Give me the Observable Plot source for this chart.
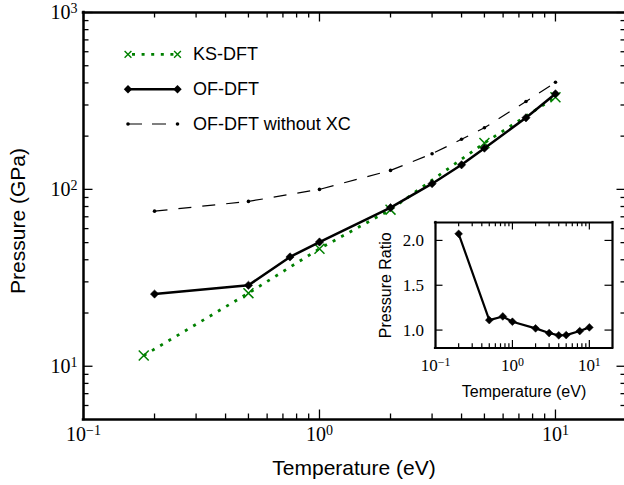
<!DOCTYPE html>
<html><head><meta charset="utf-8">
<script src="https://cdn.jsdelivr.net/npm/d3@7"></script>
<script src="https://cdn.jsdelivr.net/npm/@observablehq/plot@0.6"></script>
<style>
html,body{margin:0;padding:0;background:#fff;overflow:hidden}
#wrap{position:relative;width:624px;height:485px;overflow:hidden;background:#fff}
#wrap svg{position:absolute;overflow:visible}
</style></head><body><div id="wrap"></div>
<script>
// ---- data ----
const ksT = [0.18, 0.5, 1, 2, 5, 10];
const ksP = [11.5, 25.9, 46.2, 76.8, 183, 332];
const ofT = [0.2, 0.5, 0.75, 1, 2, 3, 4, 5, 7.5, 10];
const ofP = [25.6, 28.7, 41.5, 50.4, 78.8, 107.7, 137.7, 171, 254, 347];
const noxcT = [0.2, 0.5, 1, 2, 3, 4, 5, 7.5, 10];
const noxcP = [75.3, 85.5, 100, 128, 159, 192, 223, 314, 403];
const ratioT = [0.2, 0.5, 0.75, 1, 2, 3, 4, 5, 7.5, 10];
const ratioV = [2.074, 1.111, 1.152, 1.093, 1.019, 0.967, 0.941, 0.944, 0.989, 1.03];
const seriesNames = ["KS-DFT", "OF-DFT", "OF-DFT without XC"];
const xMajorTicks = [0.1, 1, 10];
const yMajorTicks = [10, 100, 1000];
const insetYTicks = [1.0, 1.5, 2.0];
const xLabel = "Temperature (eV)";
const yLabel = "Pressure (GPa)";
const insetYLabel = "Pressure Ratio";

const ks = ksT.map((t, i) => ({t, p: ksP[i]}));
const of = ofT.map((t, i) => ({t, p: ofP[i]}));
const noxc = noxcT.map((t, i) => ({t, p: noxcP[i]}));
const ratio = ratioT.map((t, i) => ({t, r: ratioV[i]}));

const GREEN = "#008000";
const SERIF = "Liberation Serif, DejaVu Serif, serif";
const SANS = "Liberation Sans, Arial, sans-serif";

function minorLog(dom) {
  const out = [];
  for (let k = -2; k <= 4; k++) for (let m = 2; m <= 9; m++) {
    const v = m * Math.pow(10, k);
    if (v > dom[0] * 1.0001 && v < dom[1] * 0.9999) out.push(v);
  }
  return out;
}
const fmtExp = d => "10^" + String(Math.round(Math.log10(d))).replace("-", "\u2212");

// inward tick helpers (pixel lengths converted through the scale geometry)
function makeTicks({xDom, yDom, xPx, yPx, yLog, xMaj, xMin, yMaj, yMin, majL, minL, sw}) {
  const ldx = Math.log10(xDom[1] / xDom[0]);
  const shX = (v, L) => v * Math.pow(10, L * ldx / xPx);
  const shY = yLog
    ? (v, L) => v * Math.pow(10, L * Math.log10(yDom[1] / yDom[0]) / yPx)
    : (v, L) => v + L * (yDom[1] - yDom[0]) / yPx;
  const marks = [];
  const add = (ticks, L) => {
    marks.push(Plot.ruleX(ticks.x, {x: d => d, y1: () => yDom[0], y2: () => shY(yDom[0], L), stroke: "black", strokeWidth: sw}));
    marks.push(Plot.ruleX(ticks.x, {x: d => d, y1: () => shY(yDom[1], -L), y2: () => yDom[1], stroke: "black", strokeWidth: sw}));
    marks.push(Plot.ruleY(ticks.y, {y: d => d, x1: () => xDom[0], x2: () => shX(xDom[0], L), stroke: "black", strokeWidth: sw}));
    marks.push(Plot.ruleY(ticks.y, {y: d => d, x1: () => shX(xDom[1], -L), x2: () => xDom[1], stroke: "black", strokeWidth: sw}));
  };
  add({x: xMaj, y: yMaj}, majL);
  add({x: xMin, y: yMin}, minL);
  return marks;
}

function supers(svg, baseDy) {
  d3.select(svg).selectAll("text").each(function () {
    const m = /^10\^(.+)$/.exec(this.textContent);
    if (!m) return;
    const s = d3.select(this);
    s.text(null);
    s.append("tspan").attr("dy", baseDy || 0).text("10");
    s.append("tspan").attr("dy", "-0.42em").attr("font-size", "70%").text(m[1]);
  });
}

const wrap = document.getElementById("wrap");

// ---- main chart ----
const W = 624, H = 485, mL = 83, mT = 12, mB = 66;
const xDom = [0.1, 20], yDom = [5, 1000];
const xRange = [83, 626];
const main = Plot.plot({
  width: W, height: H, marginLeft: mL, marginTop: mT, marginRight: 0, marginBottom: mB,
  style: {background: "transparent", color: "black", overflow: "visible"},
  x: {type: "log", domain: xDom, range: xRange},
  y: {type: "log", domain: yDom},
  marks: [
    Plot.line(ks, {x: "t", y: "p", stroke: GREEN, strokeWidth: 2.8, strokeDasharray: "3,6.6", strokeLinecap: "butt"}),
    Plot.dot(ks, {x: "t", y: "p", symbol: "times", r: 4.6, stroke: GREEN, strokeWidth: 1.5}),
    Plot.line(of, {x: "t", y: "p", stroke: "black", strokeWidth: 2.5}),
    Plot.dot(of, {x: "t", y: "p", symbol: "square", rotate: 45, r: 3.3, fill: "black", stroke: "black", strokeWidth: 0.5}),
    Plot.line(noxc, {x: "t", y: "p", stroke: "black", strokeWidth: 1.2, strokeDasharray: "13,11", strokeLinecap: "butt"}),
    Plot.dot(noxc, {x: "t", y: "p", r: 1.8, fill: "black"}),
    ...makeTicks({xDom, yDom, xPx: xRange[1] - xRange[0], yPx: H - mT - mB, yLog: true,
      xMaj: xMajorTicks, xMin: minorLog(xDom), yMaj: yMajorTicks, yMin: minorLog(yDom),
      majL: 9.5, minL: 5.5, sw: 1.3}),
    Plot.ruleX(xDom, {stroke: "black", strokeWidth: 2.5, strokeLinecap: "square"}),
    Plot.ruleY(yDom, {stroke: "black", strokeWidth: 2.5, strokeLinecap: "square"}),
    Plot.axisX(xMajorTicks, {tickSize: 0, tickPadding: 7, tickFormat: fmtExp, fontSize: 20, fontFamily: SERIF, label: null}),
    Plot.axisY(yMajorTicks, {tickSize: 0, tickPadding: 6, tickFormat: fmtExp, fontSize: 20, fontFamily: SERIF, label: null}),
    Plot.text([xLabel], {text: d => d, frameAnchor: "bottom", textAnchor: "middle", lineAnchor: "middle", dy: 49, fontSize: 21, fontFamily: SANS, fill: "black"}),
    Plot.text([yLabel], {text: d => d, frameAnchor: "left", textAnchor: "middle", lineAnchor: "middle", rotate: -90, dx: -65, dy: 5, fontSize: 21, fontFamily: SANS, fill: "black"})
  ]
});
main.style.left = "0px"; main.style.top = "0px";
supers(main, 0);
wrap.appendChild(main);

// ---- inset chart ----
const iW = 264, iH = 210, imL = 75, imT = 22, imR = 12, imB = 62.5;
const iyDom = [0.8, 2.2];
const inset = Plot.plot({
  width: iW, height: iH, marginLeft: imL, marginTop: imT, marginRight: imR, marginBottom: imB,
  style: {background: "transparent", color: "black", overflow: "visible"},
  x: {type: "log", domain: xDom},
  y: {domain: iyDom},
  marks: [
    Plot.frame({fill: "white", stroke: null}),
    Plot.line(ratio, {x: "t", y: "r", stroke: "black", strokeWidth: 2.2}),
    Plot.dot(ratio, {x: "t", y: "r", symbol: "square", rotate: 45, r: 3.1, fill: "black", stroke: "black", strokeWidth: 0.5}),
    ...makeTicks({xDom, yDom: iyDom, xPx: iW - imL - imR, yPx: iH - imT - imB, yLog: false,
      xMaj: xMajorTicks, xMin: minorLog(xDom), yMaj: insetYTicks, yMin: [],
      majL: 7.5, minL: 4.2, sw: 1.2}),
    Plot.ruleX(xDom, {stroke: "black", strokeWidth: 2.2, strokeLinecap: "square"}),
    Plot.ruleY(iyDom, {stroke: "black", strokeWidth: 2.2, strokeLinecap: "square"}),
    Plot.axisX(xMajorTicks, {tickSize: 0, tickPadding: 11, tickFormat: fmtExp, fontSize: 17, fontFamily: SERIF, label: null}),
    Plot.axisY(insetYTicks, {tickSize: 0, tickPadding: 11.5, tickFormat: d3.format(".1f"), fontSize: 17, fontFamily: SERIF, label: null}),
    Plot.text([xLabel], {text: d => d, frameAnchor: "bottom", textAnchor: "middle", lineAnchor: "middle", dy: 43.4, fontSize: 16, fontFamily: SANS, fill: "black"}),
    Plot.text([insetYLabel], {text: d => d, frameAnchor: "left", textAnchor: "middle", lineAnchor: "middle", rotate: -90, dx: -50, dy: 0, fontSize: 16, fontFamily: SANS, fill: "black"})
  ]
});
inset.style.left = "360px"; inset.style.top = "200px";
supers(inset, 0);
wrap.appendChild(inset);

// ---- legend ----
const leg = d3.select(wrap).append("svg")
  .attr("width", W).attr("height", H)
  .style("left", "0px").style("top", "0px").style("pointer-events", "none");
const lx0 = 128, lx1 = 177.5, ltx = 193;
const rows = [54.3, 89.3, 124];
// KS
leg.append("line").attr("x1", lx0).attr("x2", lx1).attr("y1", rows[0]).attr("y2", rows[0])
  .attr("stroke", GREEN).attr("stroke-width", 2.8).attr("stroke-dasharray", "3,6.6").attr("stroke-dashoffset", -4);
[lx0, lx1].forEach(x => {
  leg.append("path").attr("d", `M${x-3.4},${rows[0]-3.4}L${x+3.4},${rows[0]+3.4}M${x-3.4},${rows[0]+3.4}L${x+3.4},${rows[0]-3.4}`)
    .attr("stroke", GREEN).attr("stroke-width", 1.4).attr("fill", "none");
});
// OF
leg.append("line").attr("x1", lx0).attr("x2", lx1).attr("y1", rows[1]).attr("y2", rows[1])
  .attr("stroke", "black").attr("stroke-width", 2.5);
[lx0, lx1].forEach(x => {
  leg.append("path").attr("d", `M${x},${rows[1]-4.2}L${x+4.2},${rows[1]}L${x},${rows[1]+4.2}L${x-4.2},${rows[1]}Z`).attr("fill", "black");
});
// no XC
leg.append("line").attr("x1", lx0).attr("x2", lx1).attr("y1", rows[2]).attr("y2", rows[2])
  .attr("stroke", "black").attr("stroke-width", 1.2).attr("stroke-dasharray", "14,10");
[lx0, lx1].forEach(x => {
  leg.append("circle").attr("cx", x).attr("cy", rows[2]).attr("r", 1.8).attr("fill", "black");
});
seriesNames.forEach((name, i) => {
  leg.append("text").attr("x", ltx).attr("y", rows[i] + 5.6)
    .attr("font-family", SANS).attr("font-size", 18).attr("fill", "black").text(name);
});
</script></body></html>
